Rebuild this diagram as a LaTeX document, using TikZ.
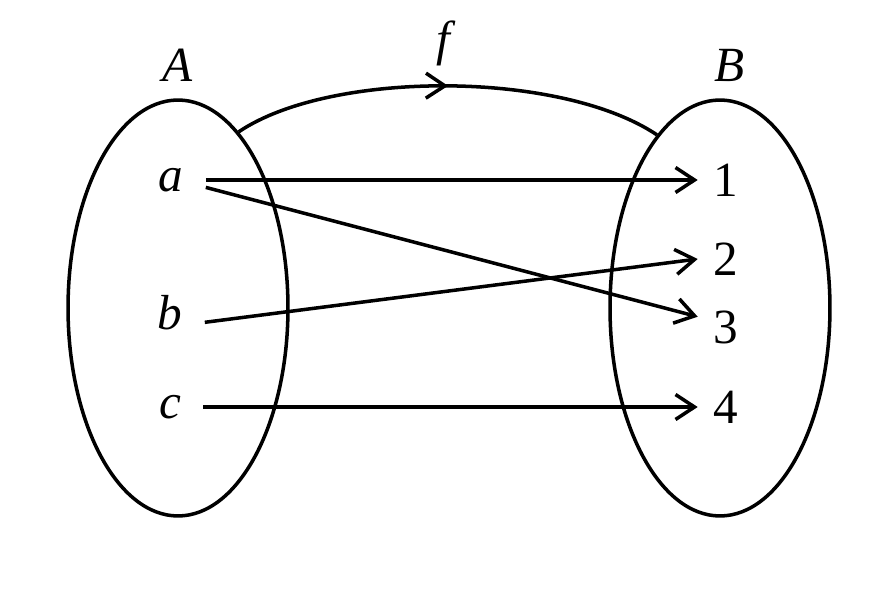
\documentclass[tikz,border=0pt]{standalone}
\usepackage{fontspec}
\setmainfont{Liberation Serif}
\usetikzlibrary{shapes.geometric,arrows.meta,decorations.markings}

\begin{document}
\begin{tikzpicture}[x=0.02cm,y=-0.02cm,line width=2pt,
  font=\fontsize{28}{34}\selectfont,
  set/.style={draw,ellipse,minimum width=4.4cm,minimum height=8.32cm,inner sep=0pt},
  elem/.style={inner sep=0pt,outer sep=0.45cm},
  img/.style={inner sep=0pt,outer sep=0.32cm},
  map/.style={-{Straight Barb[length=0.38cm,width=0.5cm]}}]
\useasboundingbox (0,0) rectangle (894,595);
% sets
\node[set] (setA) at (178,308) {};
\node[set] (setB) at (720,308) {};
\node (A) at (178,65) {\textit{A}};
\node (B) at (730,65) {\textit{B}};
% elements
\node[elem] (a) at (171,180) {\textit{a}};
\node[elem] (b) at (170,313) {\textit{b}};
\node[elem] (c) at (170,407) {\textit{c}};
\node[img] (n1) at (726,180) {1};
\node[img] (n2) at (726,259) {2};
\node[img] (n3) at (726,327) {3};
\node[img] (n4) at (726,407) {4};
% the map f
\draw[postaction={decorate},decoration={markings,
  mark=at position 0.5 with {\arrow{Straight Barb[length=0.38cm,width=0.5cm]}}}]
  (setA.71) .. controls (330,70) and (560,70) .. (setB.110)
  node[pos=0.5,above=0.25cm] (f) {\textit{f}};
\draw[map] (a.east) -- (n1.west);
\draw[map] (a.-12) -- (n3.160);
\draw[map] (b.-15) -- (n2.west);
\draw[map] (c.east) -- (n4.west);
\end{tikzpicture}
\end{document}
